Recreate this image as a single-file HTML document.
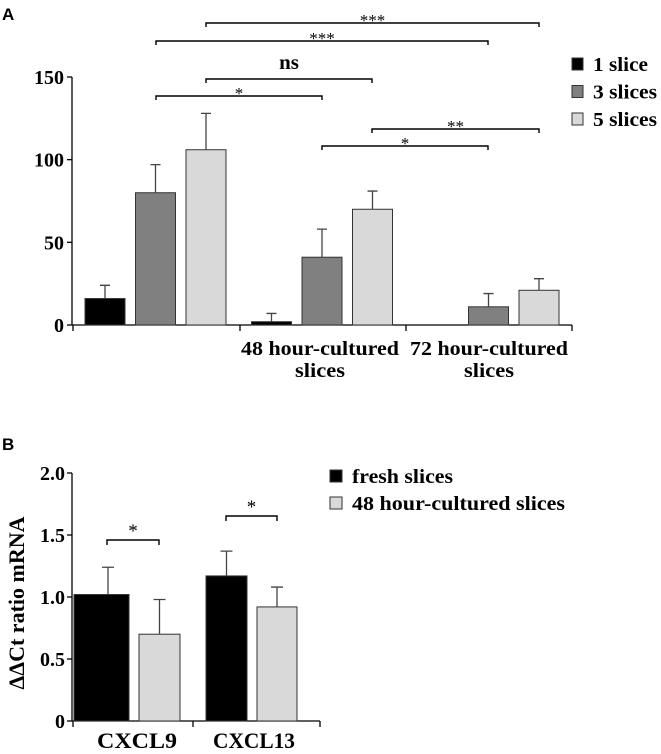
<!DOCTYPE html>
<html><head><meta charset="utf-8"><style>
html,body{margin:0;padding:0;background:#fff;}
svg{display:block;font-family:"Liberation Serif",serif;font-weight:bold;}
.pl{font-family:"Liberation Sans",sans-serif;font-weight:bold;font-size:17px;}
</style></head><body>
<svg id="chart" width="661" height="754" viewBox="0 0 661 754" xmlns="http://www.w3.org/2000/svg">
<text class="pl" x="2" y="20">A</text>
<text class="pl" x="2" y="450">B</text>
<g id="ga"></g>
<g id="gb"></g>
</svg>
<script>
// Panel A data
const aGroups = ["", "48 hour-cultured slices", "72 hour-cultured slices"];
const aSeries = ["1 slice", "3 slices", "5 slices"];
const aValues = [[16, 80, 106], [2, 41, 70], [0, 11, 21]];
const aErrors = [[24, 97, 128], [7, 58, 81], [0, 19, 28]];
const aTicks = [0, 50, 100, 150];
const aColors = ["#000000", "#808080", "#d9d9d9"];
// Panel B data
const bGroups = ["CXCL9", "CXCL13"];
const bSeries = ["fresh slices", "48 hour-cultured slices"];
const bValues = [[1.02, 0.70], [1.17, 0.92]];
const bErrors = [[1.24, 0.98], [1.37, 1.08]];
const bTicks = [0, 0.5, 1.0, 1.5, 2.0];
const bColors = ["#000000", "#d9d9d9"];

const NS = "http://www.w3.org/2000/svg";
function mk(parent, tag, attrs, txt) {
  const e = document.createElementNS(NS, tag);
  for (const k in attrs) e.setAttribute(k, attrs[k]);
  if (txt !== undefined) e.textContent = txt;
  parent.appendChild(e);
  return e;
}
// ---- Panel A ----
const ga = document.getElementById("ga");
const ay = v => 325 - v * (248 / 150);
const ax = (g, s) => 85 + g * 166.5 + s * 50.5;
mk(ga, "line", {x1: 72, y1: 77, x2: 72, y2: 325, stroke: "#000", "stroke-width": 1.3});
mk(ga, "line", {x1: 72, y1: 325, x2: 572, y2: 325, stroke: "#000", "stroke-width": 1.3});
[73, 240, 406, 572].forEach(x => {
  const t = mk(ga, "line", {x1: x, y1: 325, x2: x, y2: 331, stroke: "#000", "stroke-width": 1.3});
  
  
});
aTicks.forEach(v => {
  mk(ga, "line", {x1: 67, y1: ay(v), x2: 72, y2: ay(v), stroke: "#000", "stroke-width": 1.3});
  const t = mk(ga, "text", {x: 64, y: ay(v) + 7, "text-anchor": "end", "font-size": 20}, String(v));
  
  
});
aValues.forEach((row, g) => row.forEach((v, s) => {
  const x = ax(g, s), w = 40;
  if (v > 0) {
    const r = mk(ga, "rect", {x: x, y: ay(v), width: w, height: 325 - ay(v), fill: aColors[s], stroke: "#333", "stroke-width": 1});
    
    
  }
  const e = aErrors[g][s];
  if (e > v) {
    const eb = mk(ga, "path", {d: `M${x + w / 2} ${ay(v)}V${ay(e)}M${x + w / 2 - 5} ${ay(e)}H${x + w / 2 + 5}`, stroke: "#444", "stroke-width": 1.3, fill: "none"});
    
    
  }
}));
[[1, 320], [2, 489]].forEach(([g, cx]) => {
  const parts = aGroups[g].split(" slices");
  const t = mk(ga, "text", {x: cx, y: 355, "text-anchor": "middle", "font-size": 20, textLength: 158, lengthAdjust: "spacingAndGlyphs"}, parts[0]);
  
  
  const t2 = mk(ga, "text", {x: cx, y: 377, "text-anchor": "middle", "font-size": 20, textLength: 50, lengthAdjust: "spacingAndGlyphs"}, "slices");
  
  
});
// significance brackets
const sigA = [[206, 539, 23, "***"], [156, 488, 41, "***"], [206, 372, 79, "ns"], [156, 322, 96, "*"], [372, 539, 129, "**"], [322, 488, 146, "*"]];
sigA.forEach(([x1, x2, y, lab]) => {
  const p = mk(ga, "path", {d: `M${x1} ${y + 4}V${y}H${x2}V${y + 4}`, stroke: "#000", "stroke-width": 1.4, fill: "none"});
  
  
  const isNs = lab === "ns";
  const t = mk(ga, "text", {x: (x1 + x2) / 2, y: isNs ? y - 10 : y + 3, "text-anchor": "middle", "font-size": isNs ? 21 : 17, "font-weight": isNs ? "bold" : "normal"}, lab);
  
  
});
aSeries.forEach((name, i) => {
  const y = 64 + i * 27.5;
  const r = mk(ga, "rect", {x: 572, y: y - 6, width: 11, height: 12, fill: aColors[i], stroke: "#333", "stroke-width": 1});
  
  
  const t = mk(ga, "text", {x: 593, y: y + 7, "font-size": 20, textLength: i ? 64 : 55, lengthAdjust: "spacingAndGlyphs"}, name);
  
  
});
// ---- Panel B ----
const gb = document.getElementById("gb");
const by = v => 721 - v * (248 / 2.0);
const bx = [[74, 139], [206, 257]];
const bw = [[55, 41], [41, 40]];
mk(gb, "line", {x1: 72, y1: 473, x2: 72, y2: 721, stroke: "#000", "stroke-width": 1.3});
mk(gb, "line", {x1: 72, y1: 721, x2: 320, y2: 721, stroke: "#000", "stroke-width": 1.3});
[73, 193, 320].forEach(x => mk(gb, "line", {x1: x, y1: 721, x2: x, y2: 727, stroke: "#000", "stroke-width": 1.3}));
bTicks.forEach(v => {
  mk(gb, "line", {x1: 67, y1: by(v), x2: 72, y2: by(v), stroke: "#000", "stroke-width": 1.3});
  const t = mk(gb, "text", {x: 65, y: by(v) + 7, "text-anchor": "end", "font-size": 20}, v === 0 ? "0" : v.toFixed(1));
  
  
});
const yt = mk(gb, "text", {transform: "translate(24,603) rotate(-90)", "text-anchor": "middle", "font-size": 22, textLength: 173, lengthAdjust: "spacingAndGlyphs"}, "ΔΔCt ratio mRNA");


const bCenters = [137, 254];
const bSig = [[107, 159, 540], [226, 277, 516]];
bValues.forEach((row, g) => {
  row.forEach((v, s) => {
    const x = bx[g][s], w = bw[g][s];
    const r = mk(gb, "rect", {x: x, y: by(v), width: w, height: 721 - by(v), fill: bColors[s], stroke: "#333", "stroke-width": 1});
    
    
    const e = bErrors[g][s];
    const ex = s === 0 && g === 0 ? 108 : x + w / 2;
    const eb = mk(gb, "path", {d: `M${ex} ${by(v)}V${by(e)}M${ex - 6} ${by(e)}H${ex + 6}`, stroke: "#444", "stroke-width": 1.3, fill: "none"});
    
    
  });
  const t = mk(gb, "text", {x: bCenters[g], y: 748, "text-anchor": "middle", "font-size": 22, textLength: g ? 82 : 80, lengthAdjust: "spacingAndGlyphs"}, bGroups[g]);
  
  
  const [x1, x2, sy] = bSig[g];
  const p = mk(gb, "path", {d: `M${x1} ${sy + 5}V${sy}H${x2}V${sy + 5}`, stroke: "#000", "stroke-width": 1.4, fill: "none"});
  
  
  const st = mk(gb, "text", {x: (x1 + x2) / 2, y: sy - 3, "text-anchor": "middle", "font-size": 19, "font-weight": "normal"}, "*");
  
  
});
bSeries.forEach((name, i) => {
  const y = 476 + i * 27;
  const r = mk(gb, "rect", {x: 330, y: y - 6, width: 12, height: 12, fill: bColors[i], stroke: "#333", "stroke-width": 1});
  
  
  const t = mk(gb, "text", {x: 352, y: y + 7, "font-size": 20, textLength: i ? 213 : 101, lengthAdjust: "spacingAndGlyphs"}, name);
  
  
});
</script>
</body></html>
